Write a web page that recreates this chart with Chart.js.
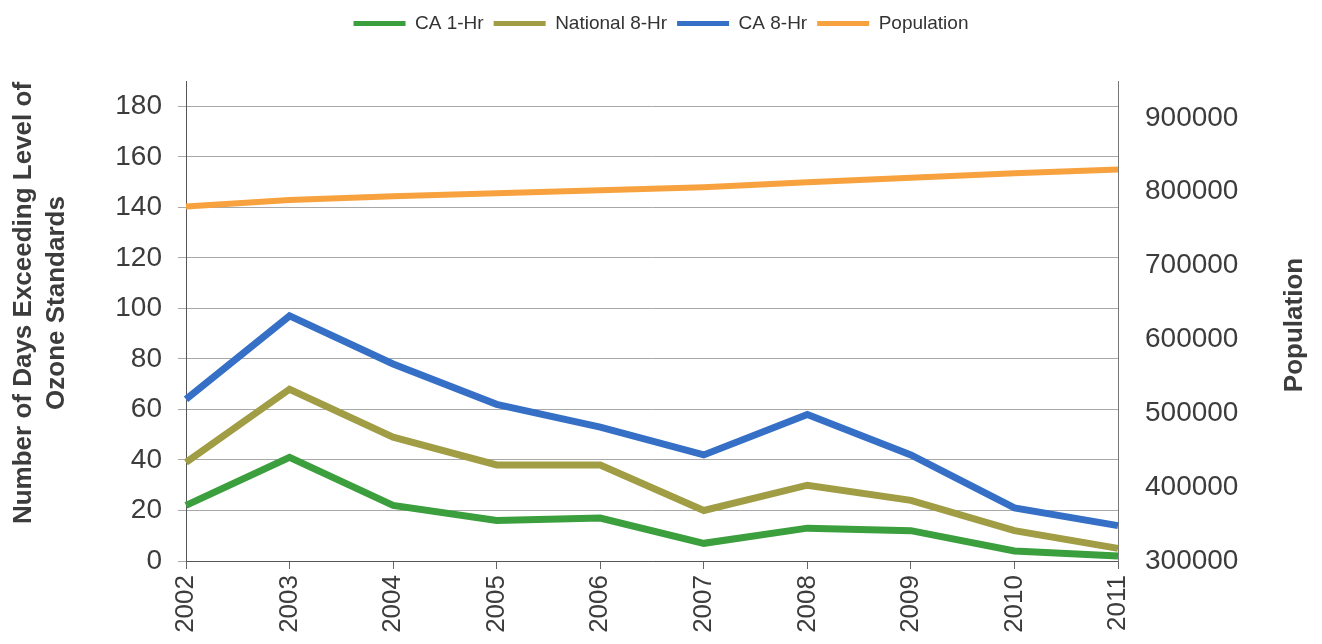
<!DOCTYPE html>
<html>
<head>
<meta charset="utf-8">
<script src="https://cdn.jsdelivr.net/npm/chart.js@4.4.1/dist/chart.umd.min.js"></script>
<style>
    html, body { margin: 0; padding: 0; background: #fff; }
</style>
</head>
<body>
<canvas id="myChart" width="1322" height="644"></canvas>
<script>
// data
var years = ['2002', '2003', '2004', '2005', '2006', '2007', '2008', '2009', '2010', '2011'];
var ca1Hr = [22, 41, 22, 16, 17, 7, 13, 12, 4, 2];
var national8Hr = [39, 68, 49, 38, 38, 20, 30, 24, 12, 5];
var ca8Hr = [64, 97, 78, 62, 53, 42, 58, 42, 21, 14];
var population = [780000, 789000, 794000, 798000, 802000, 806000, 813000, 819000, 825000, 830000];
var dayTicks = [0, 20, 40, 60, 80, 100, 120, 140, 160, 180];
var popTicks = [300000, 400000, 500000, 600000, 700000, 800000, 900000];

Chart.defaults.font.family = '"Liberation Sans", Arial, sans-serif';
Chart.defaults.color = '#3c3c3c';

// both axis titles read bottom-to-top in the original, so draw them by hand
var axisTitles = {
    id: 'axisTitles',
    beforeInit: function (chart) {
        // leave a gap under the legend
        var fit = chart.legend.fit;
        chart.legend.fit = function () {
            fit.call(chart.legend);
            this.height += 38;
        };
    },
    afterDraw: function (chart) {
        var ctx = chart.ctx;
        var area = chart.chartArea;
        var midY = (area.top + area.bottom) / 2;
        ctx.save();
        ctx.font = 'bold 26px "Liberation Sans", Arial, sans-serif';
        ctx.fillStyle = '#3c3c3c';
        ctx.textAlign = 'center';
        ctx.textBaseline = 'middle';

        ctx.save();
        ctx.translate(24, midY - 18);
        ctx.rotate(-Math.PI / 2);
        ctx.fillText('Number of Days Exceeding Level of', 0, 0);
        ctx.restore();

        ctx.save();
        ctx.translate(57, midY - 18);
        ctx.rotate(-Math.PI / 2);
        ctx.fillText('Ozone Standards', 0, 0);
        ctx.restore();

        ctx.save();
        ctx.translate(chart.scales.y1.right - 27, midY + 4);
        ctx.rotate(-Math.PI / 2);
        ctx.fillText('Population', 0, 0);
        ctx.restore();

        ctx.restore();
    }
};

var ctx = document.getElementById('myChart').getContext('2d');
var myChart = new Chart(ctx, {
    type: 'line',
    data: {
        labels: years,
        datasets: [{
            label: 'CA 1-Hr',
            data: ca1Hr,
            borderColor: '#3c9f3e',
            backgroundColor: '#3c9f3e',
            yAxisID: 'y'
        }, {
            label: 'National 8-Hr',
            data: national8Hr,
            borderColor: '#a09d45',
            backgroundColor: '#a09d45',
            yAxisID: 'y'
        }, {
            label: 'CA 8-Hr',
            data: ca8Hr,
            borderColor: '#3570c6',
            backgroundColor: '#3570c6',
            yAxisID: 'y'
        }, {
            label: 'Population',
            data: population,
            borderColor: '#f7a23e',
            backgroundColor: '#f7a23e',
            borderWidth: 6,
            yAxisID: 'y1'
        }]
    },
    options: {
        responsive: false,
        animation: false,
        layout: { padding: { top: 4 } },
        elements: {
            line: { borderWidth: 7, tension: 0, borderJoinStyle: 'miter' },
            point: { radius: 0, hoverRadius: 0 }
        },
        plugins: {
            tooltip: { enabled: false },
            legend: {
                position: 'top',
                labels: {
                    boxWidth: 52,
                    boxHeight: 5,
                    padding: 10,
                    color: '#333',
                    font: { size: 19 },
                    generateLabels: function (chart) {
                        var items = Chart.defaults.plugins.legend.labels.generateLabels(chart);
                        items.forEach(function (it) { it.lineWidth = 0; });
                        return items;
                    }
                }
            }
        },
        scales: {
            x: {
                grid: { drawOnChartArea: false, drawTicks: true, tickLength: 8, color: '#666' },
                border: { color: '#555' },
                ticks: { minRotation: 90, maxRotation: 90, padding: 6, font: { size: 26 } },
                afterFit: function (scale) { scale.height = 83; }
            },
            y: {
                position: 'left',
                min: 0,
                max: 190,
                grid: { color: '#a8a8a8', tickLength: 8 },
                border: { color: '#555' },
                ticks: { padding: 16, font: { size: 28 } },
                afterBuildTicks: function (scale) {
                    scale.ticks = dayTicks.map(function (v) { return { value: v }; });
                },
                afterFit: function (scale) { scale.width = 186; }
            },
            y1: {
                position: 'right',
                min: 300000,
                max: 950000,
                grid: { drawOnChartArea: false, drawTicks: false },
                border: { color: '#777' },
                ticks: {
                    padding: 27,
                    font: { size: 28 },
                    callback: function (v) { return String(v); }
                },
                afterBuildTicks: function (scale) {
                    scale.ticks = popTicks.map(function (v) { return { value: v }; });
                },
                afterFit: function (scale) { scale.width = 204; }
            }
        }
    },
    plugins: [axisTitles]
});
</script>
</body>
</html>
